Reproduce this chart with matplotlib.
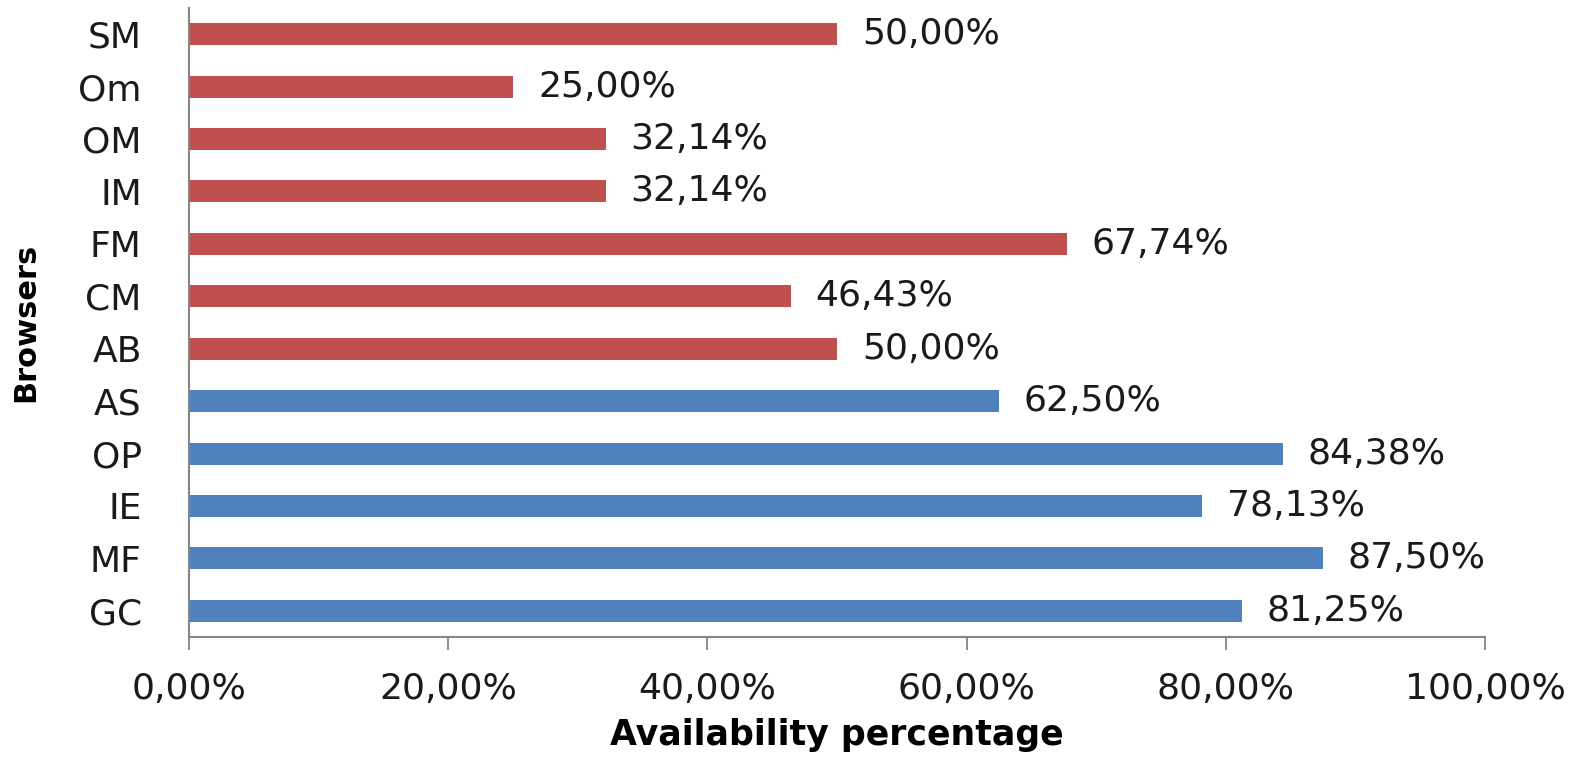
import matplotlib
matplotlib.use("Agg")
import matplotlib.pyplot as plt

# browsers from bottom to top
browsers = ["GC", "MF", "IE", "OP", "AS", "AB", "CM", "FM", "IM", "OM", "Om", "SM"]
availability = [81.25, 87.50, 78.13, 84.38, 62.50, 50.00, 46.43, 67.74, 32.14, 32.14, 25.00, 50.00]
group = ["desktop"] * 5 + ["mobile"] * 7
colours = {"desktop": "#4F81BD", "mobile": "#C0504D"}
xticks = [0, 20, 40, 60, 80, 100]

def pct(v):
    return ("%.2f" % v).replace(".", ",") + "%"

plt.rcParams["font.family"] = ["DejaVu Sans"]

fig = plt.figure(figsize=(15.87, 7.57), dpi=100)
ax = fig.add_axes([0.1191, 0.1585, 0.8166, 0.8309])

ypos = list(range(len(browsers)))
bars = ax.barh(ypos, availability, height=0.42,
               color=[colours[g] for g in group])

# value labels next to each bar
for b, v in zip(bars, availability):
    ax.annotate(pct(v), xy=(b.get_width(), b.get_y() + b.get_height() / 2),
                xytext=(18, 0), textcoords="offset points",
                va="center", ha="left", fontsize=26, color="#1a1a1a")

ax.set_xlim(0, 100)
ax.set_ylim(-0.5, len(browsers) - 0.5)
ax.set_yticks(ypos)
ax.set_yticklabels(browsers, fontsize=26, color="#1a1a1a")
ax.set_xticks(xticks)
ax.set_xticklabels([pct(t) for t in xticks], fontsize=26, color="#1a1a1a")

ax.tick_params(axis="y", length=0, pad=34)
ax.tick_params(axis="x", length=9, width=1.3, color="#868686", pad=16)

for s in ["top", "right"]:
    ax.spines[s].set_visible(False)
for s in ["left", "bottom"]:
    ax.spines[s].set_color("#868686")
    ax.spines[s].set_linewidth(1.5)

ax.set_xlabel("Availability percentage", fontsize=25, fontweight="bold", labelpad=9)
ax.set_ylabel("Browsers", fontsize=22, fontweight="bold")
ax.yaxis.set_label_coords(-0.115, 0.5)

fig.savefig("out.png", dpi=100)
